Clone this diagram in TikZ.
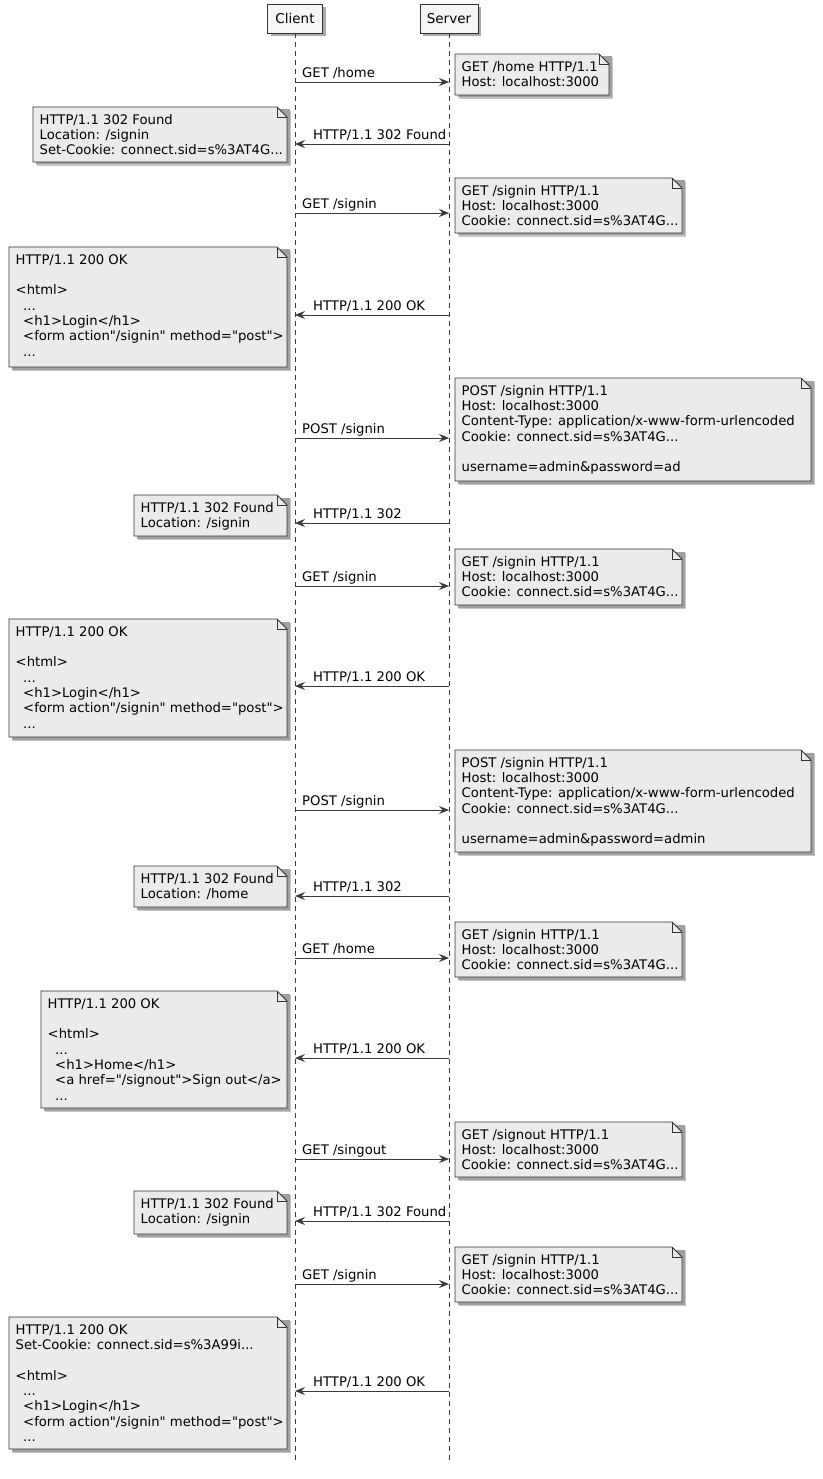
\documentclass[tikz,border=0pt]{standalone}
\usepackage{fontspec}
\setmainfont{DejaVu Sans}[Ligatures=TeXOff]
\usetikzlibrary{arrows.meta,shadows}
\definecolor{notefill}{HTML}{EBEBEB}
\definecolor{notedraw}{HTML}{333333}
\definecolor{partfill}{HTML}{F6F6F6}
\definecolor{linecol}{HTML}{3A3A3A}
\definecolor{shadowcol}{HTML}{A0A0A0}
\newcommand\htmlind{\hspace*{7.5pt}}
\newcommand\notebox[6]{%
  \fill[shadowcol!60] (#2+4,#3+4) rectangle (#4+4,#5+4);
  \fill[shadowcol] (#2+2.5,#3+2.5) rectangle (#4+2.5,#5+2.5);
  \filldraw[noteshape] (#2,#3) -- (#4-10,#3) -- (#4,#3+10) -- (#4,#5) -- (#2,#5) -- cycle;
  \draw[notefold] (#4-10,#3) -- (#4-10,#3+10) -- (#4,#3+10);
  \node[notetext] (#1) at (#2+6.5,#3+7) {\rule{0pt}{10pt}#6};
}
\newcommand\msgR[3]{%
  \coordinate (c#1) at (295,#2);
  \coordinate (s#1) at (449,#2);
  \draw[msgarrow] (c#1) -- (s#1);
  \node[msglabel] (m#1) at (302,#2-4.5) {#3};
}
\newcommand\msgL[3]{%
  \coordinate (c#1) at (295,#2);
  \coordinate (s#1) at (449,#2);
  \draw[msgarrow] (s#1) -- (c#1);
  \node[msglabel] (m#1) at (313,#2-4.5) {#3};
}
\tikzset{
  noteshape/.style={fill=notefill, draw=notedraw, line width=0.9pt},
  notefold/.style={draw=notedraw, line width=0.9pt},
  notetext/.style={anchor=north west, inner sep=0pt, align=left, font=\fontsize{13.2}{15.3}\selectfont, text=black},
  participant/.style={draw=black!80, fill=partfill, line width=0.9pt, minimum height=29pt, inner sep=0pt,
    font=\fontsize{13.5}{16}\selectfont,
    drop shadow={shadow xshift=3pt, shadow yshift=-3pt, fill=shadowcol, opacity=0.9}},
  lifeline/.style={draw=linecol, dash pattern=on 4.5pt off 4.5pt, line width=0.8pt},
  msgarrow/.style={draw=linecol, line width=0.9pt, -{Stealth[length=10pt,width=8pt,inset=3.5pt]}},
  msglabel/.style={anchor=base west, inner sep=0pt, font=\fontsize{13.2}{15}\selectfont, text=black},
}
\begin{document}
\begin{tikzpicture}[x=1pt,y=-1pt]
\fill[white] (0,0) rectangle (822,1479);
\useasboundingbox (0,0) rectangle (822,1479);

\node[participant, minimum width=55pt] (client) at (295,18.5) {Client};
\node[participant, minimum width=58pt] (server) at (449,18.5) {Server};
\coordinate (clientend) at (295,1464);
\coordinate (serverend) at (449,1464);
\draw[lifeline] (client.south) -- (clientend);
\draw[lifeline] (server.south) -- (serverend);

% 1
\msgR{1}{82}{GET /home}
\notebox{n1}{455}{54}{609}{95}{GET /home HTTP/1.1\\Host: localhost:3000}
% 2
\msgL{2}{144}{HTTP/1.1 302 Found}
\notebox{n2}{33}{107}{287}{162}{HTTP/1.1 302 Found\\Location: /signin\\Set-Cookie: connect.sid=s\%3AT4G...}
% 3
\msgR{3}{213}{GET /signin}
\notebox{n3}{455}{178}{682}{233}{GET /signin HTTP/1.1\\Host: localhost:3000\\Cookie: connect.sid=s\%3AT4G...}
% 4
\msgL{4}{315}{HTTP/1.1 200 OK}
\notebox{n4}{9}{247}{287}{367}{HTTP/1.1 200 OK\\\mbox{}\\<html>\\\htmlind...\\\htmlind<h1>Login</h1>\\\htmlind<form action"/signin" method="post">\\\htmlind...}
% 5
\msgR{5}{438}{POST /signin}
\notebox{n5}{455}{378}{811}{481}{POST /signin HTTP/1.1\\Host: localhost:3000\\Content-Type: application/x-www-form-urlencoded\\Cookie: connect.sid=s\%3AT4G...\\\mbox{}\\username=admin\&password=ad}
% 6
\msgL{6}{523}{HTTP/1.1 302}
\notebox{n6}{134}{495}{287}{536}{HTTP/1.1 302 Found\\Location: /signin}
% 7
\msgR{7}{586}{GET /signin}
\notebox{n7}{455}{549}{682}{605}{GET /signin HTTP/1.1\\Host: localhost:3000\\Cookie: connect.sid=s\%3AT4G...}
% 8
\msgL{8}{686}{HTTP/1.1 200 OK}
\notebox{n8}{9}{619}{287}{737}{HTTP/1.1 200 OK\\\mbox{}\\<html>\\\htmlind...\\\htmlind<h1>Login</h1>\\\htmlind<form action"/signin" method="post">\\\htmlind...}
% 9
\msgR{9}{810}{POST /signin}
\notebox{n9}{455}{750}{811}{852}{POST /signin HTTP/1.1\\Host: localhost:3000\\Content-Type: application/x-www-form-urlencoded\\Cookie: connect.sid=s\%3AT4G...\\\mbox{}\\username=admin\&password=admin}
% 10
\msgL{10}{896}{HTTP/1.1 302}
\notebox{n10}{134}{866}{287}{907}{HTTP/1.1 302 Found\\Location: /home}
% 11
\msgR{11}{958}{GET /home}
\notebox{n11}{455}{922}{682}{977}{GET /signin HTTP/1.1\\Host: localhost:3000\\Cookie: connect.sid=s\%3AT4G...}
% 12
\msgL{12}{1058}{HTTP/1.1 200 OK}
\notebox{n12}{41}{991}{287}{1108}{HTTP/1.1 200 OK\\\mbox{}\\<html>\\\htmlind...\\\htmlind<h1>Home</h1>\\\htmlind<a href="/signout">Sign out</a>\\\htmlind...}
% 13
\msgR{13}{1159}{GET /singout}
\notebox{n13}{455}{1122}{682}{1177}{GET /signout HTTP/1.1\\Host: localhost:3000\\Cookie: connect.sid=s\%3AT4G...}
% 14
\msgL{14}{1221}{HTTP/1.1 302 Found}
\notebox{n14}{134}{1191}{287}{1234}{HTTP/1.1 302 Found\\Location: /signin}
% 15
\msgR{15}{1284}{GET /signin}
\notebox{n15}{455}{1247}{682}{1302}{GET /signin HTTP/1.1\\Host: localhost:3000\\Cookie: connect.sid=s\%3AT4G...}
% 16
\msgL{16}{1391}{HTTP/1.1 200 OK}
\notebox{n16}{9}{1317}{287}{1449}{HTTP/1.1 200 OK\\Set-Cookie: connect.sid=s\%3A99i...\\\mbox{}\\<html>\\\htmlind...\\\htmlind<h1>Login</h1>\\\htmlind<form action"/signin" method="post">\\\htmlind...}
\end{tikzpicture}
\end{document}
